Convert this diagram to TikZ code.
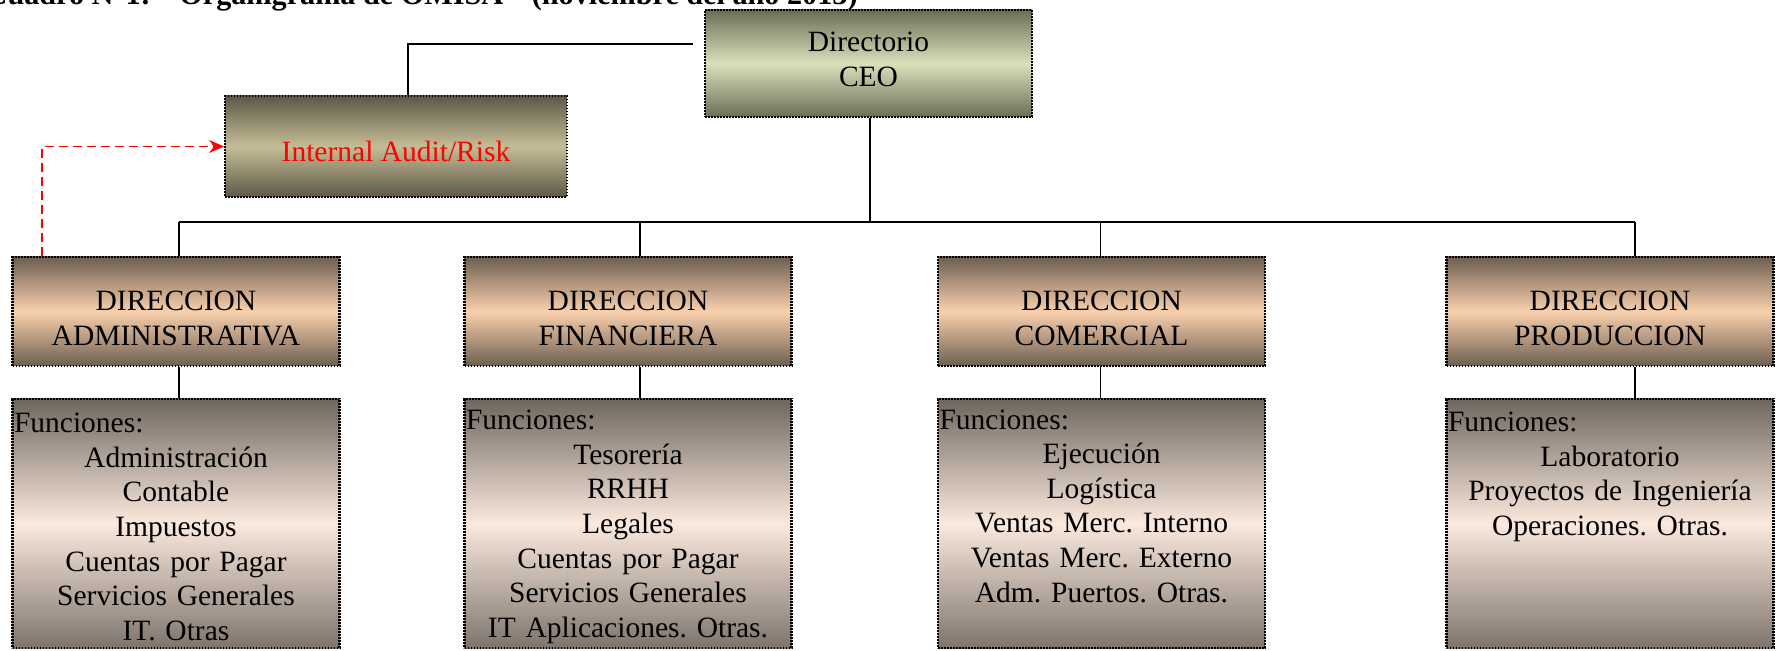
\documentclass[tikz,border=0pt]{standalone}
\usepackage{fontspec}
\setmainfont{Liberation Serif}
\usetikzlibrary{arrows.meta}

\definecolor{ceoEdge}{HTML}{6B6E57}
\definecolor{ceoMid}{HTML}{D8E1BA}
\definecolor{audEdge}{HTML}{5E5948}
\definecolor{audMid}{HTML}{C5BD96}
\definecolor{dirEdge}{HTML}{6E5F50}
\definecolor{dirMid}{HTML}{F9D0AD}
\definecolor{funTop}{HTML}{6E665E}
\definecolor{funMid}{HTML}{FBE9DD}
\definecolor{funBot}{HTML}{7E746C}

\begin{document}
\frenchspacing
\begin{tikzpicture}[x=0.5pt,y=-0.5pt,
  box/.style={rectangle, draw=black, line width=1.2pt, dash pattern=on 0.8pt off 0.7pt,
    align=center, inner sep=0pt},
  label text/.style={inner sep=0pt, align=center, font=\fontsize{14.75}{17.5}\selectfont},
  ceobox/.style={box, top color=ceoEdge, bottom color=ceoEdge, middle color=ceoMid},
  audbox/.style={box, top color=audEdge, bottom color=audEdge, middle color=audMid},
  dirbox/.style={box, top color=dirEdge, bottom color=dirEdge, middle color=dirMid,
    minimum width=163.5pt, minimum height=54.5pt},
  funbox/.style={box, top color=funTop, bottom color=funBot, middle color=funMid,
    minimum width=163.5pt, minimum height=124.5pt},
  funtext/.style={anchor=base, inner sep=0pt, text width=162pt, align=center,
    font=\fontsize{14.75}{17.3}\selectfont},
  link/.style={draw=black, line width=0.7pt},
  audlink/.style={draw=red, line width=0.8pt, dash pattern=on 4.5pt off 2.5pt,
    -{Stealth[length=7.5pt,width=6.5pt]}}
]
\useasboundingbox (0,0) rectangle (1777,651);
\clip (0,0) rectangle (1777,651);

% caption line, running off the top edge
\node[anchor=base east, inner sep=0pt, font=\bfseries\fontsize{15.1}{17}\selectfont] (title)
  at (858,5) {Cuadro N°1:\hspace{3pt} “Organigrama de OMISA”\hspace{3pt} (noviembre del año 2013)};

% top level
\node[ceobox, minimum width=163.5pt, minimum height=53.5pt] (ceo) at (868.5,63.5) {};
\node[label text] (ceoT) at ([yshift=2.3pt]ceo.center) {Directorio\\CEO};
\node[audbox, minimum width=170.75pt, minimum height=50.5pt] (audit) at (396,146.5) {};
\node[label text, text=red] (auditT) at ([yshift=-2.3pt]audit.center) {Internal Audit/Risk};

% directions
\node[dirbox] (dA) at (176,311.5)    {};
\node[dirbox] (dF) at (628,311.5)    {};
\node[dirbox] (dC) at (1101.5,311.5) {};
\node[dirbox] (dP) at (1610,311.5)   {};
\node[label text] (dAT) at ([yshift=-3.4pt]dA.center) {DIRECCION\\ADMINISTRATIVA};
\node[label text] (dFT) at ([yshift=-3.4pt]dF.center) {DIRECCION\\FINANCIERA};
\node[label text] (dCT) at ([yshift=-3.4pt]dC.center) {DIRECCION\\COMERCIAL};
\node[label text] (dPT) at ([yshift=-3.4pt]dP.center) {DIRECCION\\PRODUCCION};

% function boxes
\node[funbox] (fA) at (176,523.5) {};
\node[funbox] (fF) at (628,523.5) {};
\node[funbox] (fC) at (1101.5,523.5) {};
\node[funbox] (fP) at (1610,523.5) {};

\node[funtext] (tA) at ([yshift=-17.5pt]fA.north)
  {\makebox[\linewidth][l]{Funciones:}\\Administración\\Contable\\Impuestos\\
   Cuentas por Pagar\\Servicios Generales\\IT. Otras};
\node[funtext] (tF) at ([yshift=-16pt]fF.north)
  {\makebox[\linewidth][l]{Funciones:}\\Tesorería\\RRHH\\Legales\\
   Cuentas por Pagar\\Servicios Generales\\IT Aplicaciones. Otras.};
\node[funtext] (tC) at ([yshift=-15.7pt]fC.north)
  {\makebox[\linewidth][l]{Funciones:}\\Ejecución\\Logística\\Ventas Merc. Interno\\
   Ventas Merc. Externo\\Adm. Puertos. Otras.};
\node[funtext] (tP) at ([yshift=-17pt]fP.north)
  {\makebox[\linewidth][l]{Funciones:}\\Laboratorio\\Proyectos de Ingeniería\\
   Operaciones. Otras.};

% connectors
\coordinate (bus) at (870,222);
\coordinate (jA) at ([xshift=1.5pt]dA.north);
\coordinate (jF) at ([xshift=6pt]dF.north);
\coordinate (jC) at ([xshift=-0.5pt]dC.north);
\coordinate (jP) at ([xshift=12.5pt]dP.north);

\draw[link, shorten <=5.5pt] ([yshift=9.75pt]ceo.west) -| ([xshift=6pt]audit.north);
\draw[link] (ceo.south -| bus) -- (bus);
\draw[link] (jA |- bus) -- (jP |- bus);
\foreach \j/\d/\f in {jA/dA/fA, jF/dF/fF, jC/dC/fC, jP/dP/fP}{
  \draw[link] (\j |- bus) -- (\j);
  \draw[link] (\j |- \d.south) -- (\j |- \f.north);
}

\draw[audlink] ([xshift=15.25pt]dA.north west) |- (audit.west);
\end{tikzpicture}
\end{document}
